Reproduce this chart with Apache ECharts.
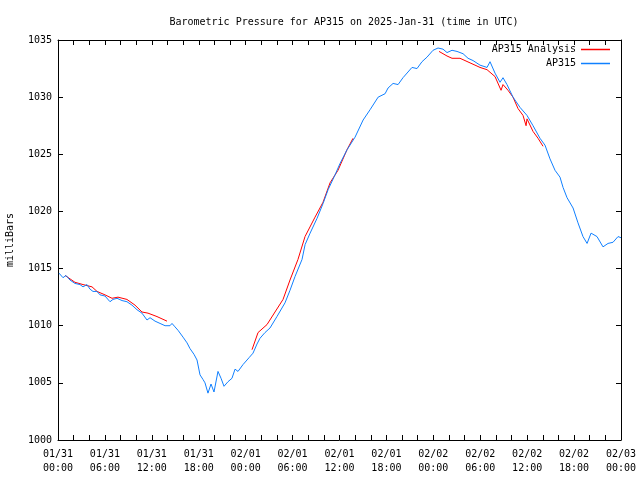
<!DOCTYPE html>
<html>
<head>
<meta charset="utf-8">
<script src="https://cdn.jsdelivr.net/npm/echarts@6/dist/echarts.min.js"></script>
<style>html,body{margin:0;padding:0;background:#fff}#c{width:640px;height:480px}</style>
</head>
<body>
<div id="c"></div>
<script>
// Hours since 2025-01-31 00:00 UTC
var obsHours = [0.13,0.64,1.02,1.53,2.17,2.81,3.20,3.71,4.09,4.48,4.99,5.37,6.01,6.65,7.03,7.55,8.19,8.82,9.46,10.10,10.74,11.38,11.77,12.41,13.05,13.69,13.94,14.32,14.58,14.96,15.35,15.99,16.50,16.88,17.39,17.78,18.16,18.54,18.80,19.18,19.57,19.95,20.46,20.85,21.23,21.74,22.25,22.64,23.02,23.66,24.43,24.94,25.45,25.83,26.47,27.11,28.00,29.03,29.67,30.31,31.21,31.60,32.24,33.13,33.90,34.54,35.43,36.07,36.97,37.99,39.02,39.91,40.94,41.83,42.21,42.85,43.49,44.12,45.27,45.91,46.55,47.19,47.96,48.60,49.24,49.75,50.39,51.03,51.80,52.44,53.08,53.97,54.87,55.25,55.89,56.53,56.91,57.42,58.19,59.09,59.98,60.75,61.64,62.28,62.92,63.56,64.20,64.59,65.10,65.87,66.50,67.14,67.66,68.17,68.93,69.70,70.34,70.98,71.62,72.00];
var obsValues = [1014.6,1014.2,1014.4,1014.0,1013.7,1013.6,1013.4,1013.6,1013.2,1013.0,1013.0,1012.7,1012.6,1012.1,1012.3,1012.4,1012.2,1012.1,1011.8,1011.4,1011.1,1010.5,1010.7,1010.4,1010.2,1010.0,1009.9,1010.0,1010.2,1009.9,1009.6,1009.0,1008.5,1008.0,1007.5,1007.0,1005.7,1005.3,1005.0,1004.1,1004.9,1004.2,1006.0,1005.4,1004.7,1005.1,1005.4,1006.2,1006.0,1006.6,1007.2,1007.6,1008.4,1008.9,1009.4,1009.8,1010.8,1012.0,1013.1,1014.3,1015.8,1017.1,1018.1,1019.4,1020.7,1021.9,1023.2,1024.2,1025.4,1026.5,1028.0,1028.9,1030.0,1030.3,1030.8,1031.2,1031.1,1031.7,1032.6,1032.5,1033.1,1033.5,1034.1,1034.3,1034.2,1033.9,1034.1,1034.0,1033.8,1033.4,1033.2,1032.8,1032.6,1033.1,1032.1,1031.3,1031.7,1031.1,1030.0,1029.1,1028.4,1027.5,1026.4,1025.8,1024.6,1023.6,1023.0,1022.1,1021.2,1020.3,1019.0,1017.8,1017.2,1018.1,1017.8,1016.9,1017.2,1017.3,1017.8,1017.7];
// Analysis (null = gap)
var anaHours = [0.90,2.17,3.20,4.35,4.99,6.01,6.91,7.67,8.82,9.85,10.74,11.51,12.66,13.30,13.94,19.0,24.81,25.58,26.73,27.75,28.78,29.67,30.69,31.59,32.87,33.89,34.79,35.81,36.96,37.73,43.0,48.73,49.75,50.39,51.41,52.69,53.97,54.87,55.89,56.66,56.79,56.91,57.55,58.19,58.83,59.47,59.86,59.98,60.75,61.39,62.03];
var anaValues = [1014.4,1013.8,1013.6,1013.4,1013.0,1012.7,1012.4,1012.5,1012.3,1011.8,1011.2,1011.1,1010.8,1010.6,1010.4,null,1007.9,1009.4,1010.1,1011.2,1012.3,1014.0,1015.8,1017.8,1019.5,1020.8,1022.5,1023.6,1025.4,1026.4,null,1034.0,1033.6,1033.4,1033.4,1033.0,1032.6,1032.4,1031.8,1030.6,1030.5,1031.1,1030.6,1030.0,1029.0,1028.4,1027.5,1028.1,1027.0,1026.4,1025.7];
var xTickLabels = ['01/31\n00:00','01/31\n06:00','01/31\n12:00','01/31\n18:00','02/01\n00:00','02/01\n06:00','02/01\n12:00','02/01\n18:00','02/02\n00:00','02/02\n06:00','02/02\n12:00','02/02\n18:00','02/03\n00:00'];

function zip(a, b) { return a.map(function (h, i) { return [h, b[i]]; }); }

var FONT = 'DejaVu Sans Mono';
var chart = echarts.init(document.getElementById('c'), null, {renderer: 'canvas'});
var tick = {show: true, inside: true, length: 5, lineStyle: {color: '#000', width: 1}};
var line = {show: true, onZero: false, lineStyle: {color: '#000', width: 1}};
chart.setOption({
  animation: false,
  backgroundColor: '#fff',
  title: {
    text: 'Barometric Pressure for AP315 on 2025-Jan-31 (time in UTC)',
    left: 339, top: 12, textAlign: 'center',
    textStyle: {fontFamily: FONT, fontSize: 10, fontWeight: 'normal', color: '#000'}
  },
  legend: {
    orient: 'vertical', right: 30, top: 43, align: 'right', padding: 0,
    itemWidth: 29, itemHeight: 1.5, itemGap: 1, icon: 'rect',
    textStyle: {fontFamily: FONT, fontSize: 10, color: '#000', width: 100, align: 'right', lineHeight: 13},
    data: ['AP315 Analysis', 'AP315']
  },
  grid: {left: 58, right: 19, top: 40, bottom: 40, containLabel: false, outerBoundsMode: 'none'},
  xAxis: [{
    type: 'value', min: 0, max: 72, interval: 2,
    axisLine: line, axisTick: tick, splitLine: {show: false},
    axisLabel: {
      fontFamily: FONT, fontSize: 10, color: '#000', margin: 7, lineHeight: 14,
      formatter: function (v) { return (v % 6 === 0) ? xTickLabels[v / 6] : ''; }
    }
  }, {
    type: 'value', min: 0, max: 72, interval: 2, position: 'top',
    axisLine: line, axisTick: tick, axisLabel: {show: false}, splitLine: {show: false}
  }],
  yAxis: [{
    type: 'value', min: 1000, max: 1035, interval: 5,
    name: 'milliBars', nameLocation: 'middle', nameGap: 43, nameRotate: 90,
    nameTextStyle: {fontFamily: FONT, fontSize: 10, color: '#000'},
    axisLine: line, axisTick: tick, splitLine: {show: false},
    axisLabel: {fontFamily: FONT, fontSize: 10, color: '#000', margin: 6,
      formatter: function (v) { return String(v); }}
  }, {
    type: 'value', min: 1000, max: 1035, interval: 5, position: 'right',
    axisLine: line, axisTick: tick, axisLabel: {show: false}, splitLine: {show: false}
  }],
  series: [{
    name: 'AP315 Analysis', type: 'line', data: zip(anaHours, anaValues),
    showSymbol: false, symbol: 'none', connectNulls: false,
    color: '#ff0000', lineStyle: {color: '#ff0000', width: 1}
  }, {
    name: 'AP315', type: 'line', data: zip(obsHours, obsValues),
    showSymbol: false, symbol: 'none',
    color: '#1080ff', lineStyle: {color: '#1080ff', width: 1}
  }]
});
</script>
</body>
</html>
